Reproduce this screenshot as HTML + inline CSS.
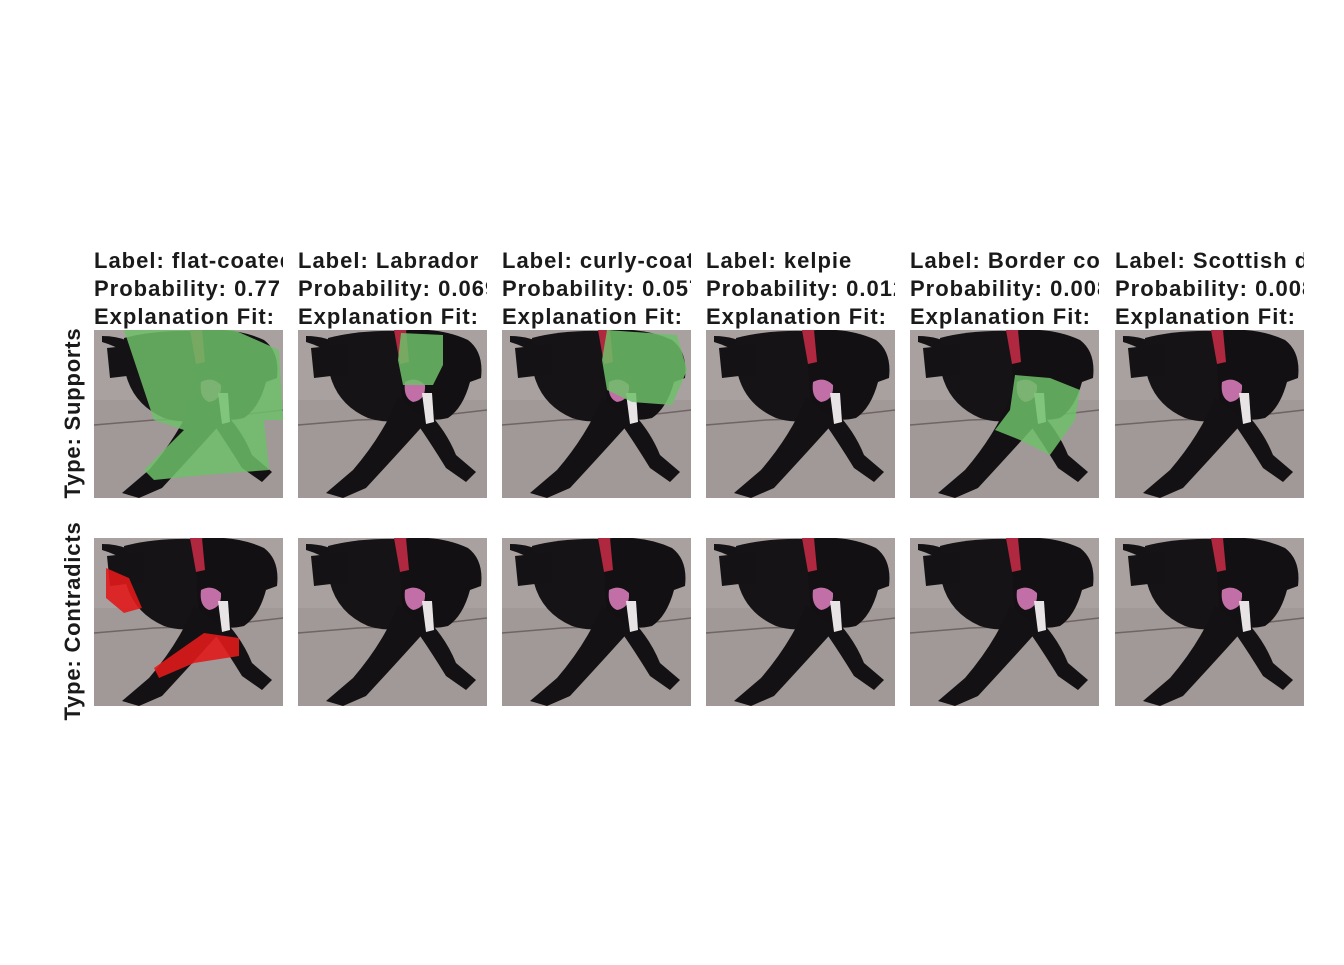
<!DOCTYPE html>
<html><head><meta charset="utf-8"><style>
body{margin:0;background:#fff;}
svg text{font-family:"Liberation Sans",Arial,sans-serif;font-weight:bold;fill:#1a1a1a;}
</style></head><body>
<svg width="1344" height="960" viewBox="0 0 1344 960">
<defs>
<clipPath id="pc"><rect x="0" y="0" width="189" height="168"/></clipPath>
<g id="dog">
  <rect x="0" y="0" width="189" height="168" fill="#a19997"/>
  <rect x="0" y="0" width="189" height="70" fill="#a8a1a0"/>
  <path d="M0,95 L60,90 L120,88 L189,80" stroke="#6e6564" stroke-width="1.5" fill="none"/>
  <path d="M8,6 Q30,6 45,17 L38,26 Q22,16 8,12Z" fill="#141214"/>
  <path d="M30,8 Q60,0 100,1 L120,8 L126,78 Q100,98 70,88 Q40,75 32,45Z" fill="#151315"/>
  <path d="M13,18 L50,14 L50,44 L16,48 Z" fill="#141214"/>
  <path d="M100,1 Q140,-4 170,10 Q186,22 183,48 L172,52 Q165,78 150,88 Q125,94 105,80 Z" fill="#121012"/>
  <path d="M100,68 Q85,105 55,140 L28,163 L45,168 L68,158 Q105,118 130,90 Z" fill="#131113"/>
  <path d="M128,80 Q148,100 158,125 L178,142 L168,152 L148,138 Q132,112 118,92 Z" fill="#131113"/>
  <path d="M96,0 L108,0 L111,32 L102,34 Z" fill="#b0283f"/>
  <path d="M107,52 Q118,46 127,55 Q128,70 115,72 Q105,68 107,52Z" fill="#c16fa6"/>
  <path d="M124,63 L134,63 L136,92 L128,94 Z" fill="#e8e4e6"/>
</g>
</defs>

<g><text transform="translate(80,413) rotate(-90)" text-anchor="middle" font-size="22" letter-spacing="0.8">Type: Supports</text></g>
<g><text transform="translate(80,621) rotate(-90)" text-anchor="middle" font-size="22" letter-spacing="0.8">Type: Contradicts</text></g>

<g id="panels"></g>
</svg>
<script>
const colX=[94,298,502,706,910,1115];
const labels=["flat-coated retriever","Labrador retriever","curly-coated retriever","kelpie","Border collie","Scottish deerhound"];
const probs=["0.77","0.069","0.057","0.012","0.008","0.008"];
const fits=["0.45","0.42","0.41","0.40","0.39","0.38"];
const supportShapes=[
 "M30,0 L140,0 L185,20 L189,90 L170,90 L175,140 L110,145 L60,150 L50,140 L90,100 L60,90 L40,30 Z M95,120 L150,118 L150,135 L95,135Z",
 "M103,3 L145,5 L145,35 L135,55 L105,55 L100,30Z",
 "M105,0 L175,5 L185,40 L170,75 L130,72 L105,60 L100,30Z",
 "",
 "M105,45 L140,48 L170,60 L165,90 L140,125 L110,110 L85,100 L100,80Z",
 ""];
const contraShapes=[
 "M12,30 L35,40 L48,70 L30,75 L12,60Z M60,130 L110,95 L145,100 L145,118 L100,125 L65,140Z",
 "","","","",""];
const svg=document.getElementById('panels');
const NS="http://www.w3.org/2000/svg";
function txt(x,y,s){const t=document.createElementNS(NS,'text');t.setAttribute('x',x);t.setAttribute('y',y);t.setAttribute('font-size','22');t.setAttribute('letter-spacing','1');t.textContent=s;return t;}
colX.forEach((x,i)=>{
  const cp=document.createElementNS(NS,'clipPath');cp.setAttribute('id','tc'+i);
  const r=document.createElementNS(NS,'rect');r.setAttribute('x',x);r.setAttribute('y',240);r.setAttribute('width',189);r.setAttribute('height',90);cp.appendChild(r);svg.appendChild(cp);
  const g=document.createElementNS(NS,'g');g.setAttribute('clip-path','url(#tc'+i+')');
  
  
  g.appendChild(txt(x,268,'Label: '+labels[i]));
  g.appendChild(txt(x,296,'Probability: '+probs[i]));
  g.appendChild(txt(x,324,'Explanation Fit: '+fits[i]));
  svg.appendChild(g);
  [[330,supportShapes[i],'#6fbf6a','supports'],[538,contraShapes[i],'#e01a1a','contradicts']].forEach(([y,d,c,n])=>{
    const p=document.createElementNS(NS,'g');p.setAttribute('transform','translate('+x+','+y+')');p.setAttribute('clip-path','url(#pc)');
    
    
    const u=document.createElementNS(NS,'use');u.setAttribute('href','#dog');p.appendChild(u);
    if(d){const o=document.createElementNS(NS,'path');o.setAttribute('d',d);o.setAttribute('fill',c);o.setAttribute('fill-opacity',n==='supports'?'0.85':'0.9');
      
      
      p.appendChild(o);}
    svg.appendChild(p);
  });
});
</script>
</body></html>
